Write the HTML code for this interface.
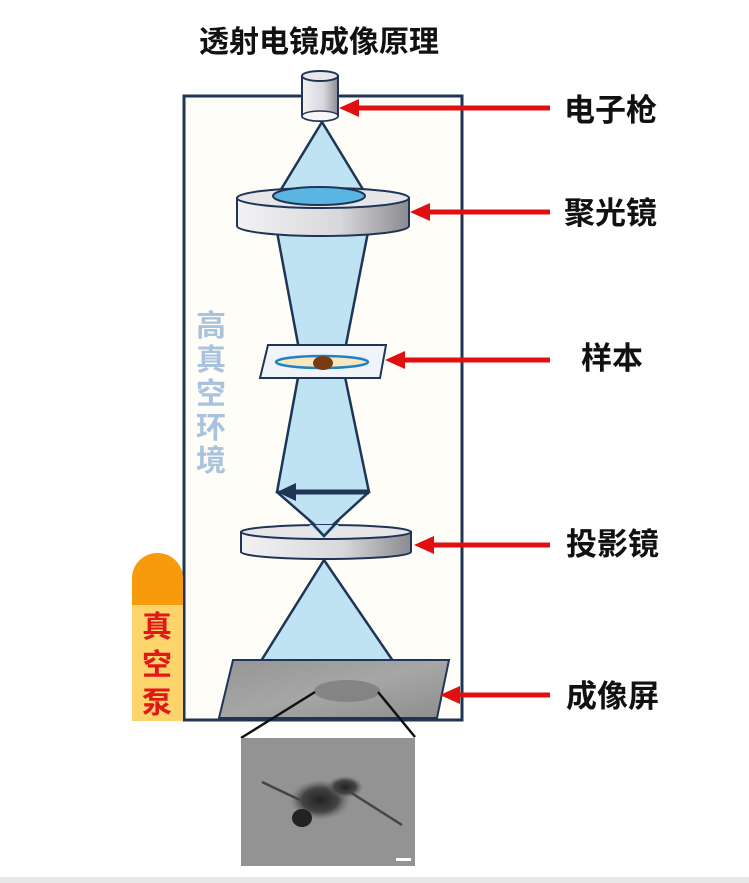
<!DOCTYPE html>
<html><head><meta charset="utf-8"><style>
html,body{margin:0;padding:0;background:#fff;}
svg{display:block;}
text{font-family:"Liberation Sans","Noto Sans CJK SC",sans-serif;font-weight:bold;}
</style></head><body>
<svg width="749" height="883" viewBox="0 0 749 883" xmlns="http://www.w3.org/2000/svg">
<defs>
<linearGradient id="metal" x1="0" x2="1" y1="0" y2="0">
<stop offset="0" stop-color="#f2f2f4"/><stop offset="0.6" stop-color="#d8d8dc"/><stop offset="1" stop-color="#8a8a90"/>
</linearGradient>
<linearGradient id="screen" x1="0" x2="1" y1="0" y2="1">
<stop offset="0" stop-color="#959595"/><stop offset="0.5" stop-color="#a6a6a6"/><stop offset="1" stop-color="#8e8e8e"/>
</linearGradient>
<radialGradient id="blob" cx="0.5" cy="0.5" r="0.5">
<stop offset="0" stop-color="#222"/><stop offset="0.6" stop-color="#444"/><stop offset="1" stop-color="#6a6a6a" stop-opacity="0"/>
</radialGradient>
</defs>
<text x="319" y="52" font-size="30" text-anchor="middle" fill="#111">透射电镜成像原理</text>
<rect x="184" y="96" width="278" height="624" fill="#fffdf7" stroke="#1f3556" stroke-width="3"/>
<g fill="#a9c3df" font-size="30" text-anchor="middle">
<text x="211" y="336">高</text><text x="211" y="370">真</text><text x="211" y="404">空</text><text x="211" y="438">环</text><text x="211" y="471">境</text>
</g>
<path d="M132 605 V578 A25.5 25 0 0 1 183 578 V605 Z" fill="#f79a0c"/>
<rect x="132" y="605" width="51" height="116" fill="#fdd36c"/>
<g fill="#e01818" font-size="30" text-anchor="middle">
<text x="157" y="637">真</text><text x="157" y="675">空</text><text x="157" y="713">泵</text>
</g>
<polygon points="322,122 277,196 367,196" fill="#bfe3f3" stroke="#1f3556" stroke-width="2.5" stroke-linejoin="round"/>
<polygon points="277,232 368,232 343,360 301,360" fill="#bfe3f3" stroke="#1f3556" stroke-width="2.5"/>
<polygon points="299,372 344,372 369,492 277,492" fill="#bfe3f3" stroke="#1f3556" stroke-width="2.5"/>
<polygon points="277,492 369,492 324,533" fill="#bfe3f3" stroke="#1f3556" stroke-width="2.5" stroke-linejoin="round"/>
<line x1="292" y1="492" x2="369" y2="492" stroke="#1f3556" stroke-width="5"/>
<polygon points="277,492 296,483 296,501" fill="#1f3556"/>
<path d="M302 76 V116 A18 5 0 0 0 338 116 V76 Z" fill="url(#metal)" stroke="#1f3556" stroke-width="2"/>
<ellipse cx="320" cy="76" rx="18" ry="5" fill="#e8e8ea" stroke="#1f3556" stroke-width="2"/>
<ellipse cx="320" cy="116" rx="18" ry="5" fill="#f6f6f6" stroke="#1f3556" stroke-width="1.5"/>
<path d="M237 198 V226 A86 10 0 0 0 409 226 V198 Z" fill="url(#metal)" stroke="#1f3556" stroke-width="2"/>
<ellipse cx="323" cy="198" rx="86" ry="10" fill="#e6e6e9" stroke="#1f3556" stroke-width="2"/>
<ellipse cx="319" cy="196" rx="46" ry="9" fill="#5ab5e3" stroke="#1f3556" stroke-width="2"/>
<polygon points="268,345 386,345 380,378 260,378" fill="#eef4fa" stroke="#1f3556" stroke-width="2"/>
<ellipse cx="322" cy="362" rx="46" ry="6" fill="#fbe7bd" stroke="#1f82c4" stroke-width="2.5"/>
<ellipse cx="323" cy="363" rx="10" ry="7" fill="#7a3a12"/>
<path d="M241 532 V552 A85 7 0 0 0 411 552 V532 Z" fill="url(#metal)" stroke="#1f3556" stroke-width="2"/>
<ellipse cx="326" cy="532" rx="85" ry="7" fill="#e6e6e9" stroke="#1f3556" stroke-width="2"/>
<polygon points="309,525 339,525 324,538" fill="#bfe3f3"/>
<polyline points="309,520 324,536 339,520" fill="none" stroke="#1f3556" stroke-width="2.5"/>
<polygon points="324,560 261,661 393,661" fill="#bfe3f3" stroke="#1f3556" stroke-width="2.5" stroke-linejoin="round"/>
<polygon points="233,660 449,660 437,718 219,718" fill="url(#screen)" stroke="#1f3556" stroke-width="2"/>
<ellipse cx="347" cy="691" rx="33" ry="11" fill="#787878" opacity="0.7"/>
<line x1="315" y1="692" x2="241" y2="738" stroke="#111" stroke-width="2.5"/>
<line x1="378" y1="692" x2="415" y2="737" stroke="#111" stroke-width="2.5"/>
<rect x="241" y="738" width="174" height="128" fill="#939393"/>
<ellipse cx="320" cy="800" rx="30" ry="20" fill="url(#blob)"/>
<ellipse cx="302" cy="818" rx="10" ry="9" fill="#222"/>
<ellipse cx="345" cy="787" rx="18" ry="11" fill="url(#blob)"/>
<path d="M262 782 L300 800 M350 792 L402 825" stroke="#444" stroke-width="2.5"/>
<rect x="396" y="858" width="15" height="3" fill="#fff"/>
<g stroke="#e01010" stroke-width="5">
<line x1="355" y1="108" x2="550" y2="108"/>
<line x1="425" y1="212" x2="550" y2="212"/>
<line x1="400" y1="360" x2="550" y2="360"/>
<line x1="430" y1="545" x2="550" y2="545"/>
<line x1="455" y1="695" x2="550" y2="695"/>
</g>
<g fill="#e01010">
<polygon points="339,108 359,99 359,117"/>
<polygon points="410,212 430,203 430,221"/>
<polygon points="385,360 405,351 405,369"/>
<polygon points="414,545 434,536 434,554"/>
<polygon points="440,695 460,686 460,704"/>
</g>
<g fill="#111" font-size="31">
<text x="564" y="121">电子枪</text>
<text x="564" y="224">聚光镜</text>
<text x="581" y="369">样本</text>
<text x="566" y="555">投影镜</text>
<text x="566" y="707">成像屏</text>
</g>
<rect x="0" y="877" width="749" height="6" fill="#e8e8e8"/>
</svg>
</body></html>
